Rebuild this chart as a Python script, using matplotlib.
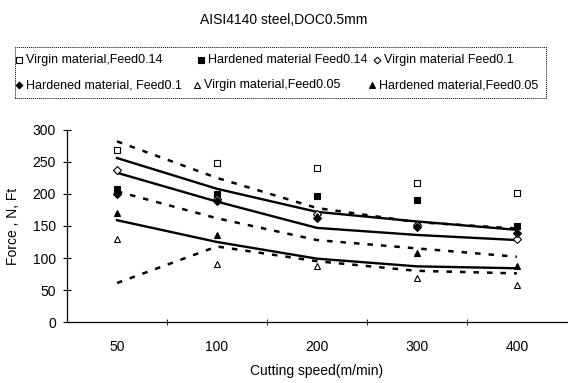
import matplotlib
matplotlib.use("Agg")
import matplotlib.pyplot as plt
from matplotlib.patches import Rectangle
from matplotlib.lines import Line2D

plt.rcParams['font.family'] = ['Liberation Sans', 'DejaVu Sans']

speeds = ['50', '100', '200', '300', '400']

# measured points
virgin_014 = [268, 249, 240, 217, 202]
hard_014 = [208, 200, 197, 190, 150]
virgin_01 = [238, 192, 168, 152, 130]
hard_01 = [200, 189, 162, 148, 139]
virgin_005 = [130, 91, 87, 69, 58]
hard_005 = [170, 136, 165, 108, 87]

# trend lines
solid_a = [256, 208, 172, 157, 144]
solid_b = [233, 188, 147, 136, 128]
solid_c = [159, 125, 99, 87, 84]
dash_a = [282, 225, 178, 156, 146]
dash_b = [204, 162, 128, 115, 102]
dash_c = [61, 118, 95, 80, 76]

W, H = 568, 383
fig = plt.figure(figsize=(W / 100, H / 100), dpi=100)
ax = fig.add_axes([0.118, 0.159, 0.88, 0.502])

x = list(range(len(speeds)))

for ys in [solid_a, solid_b, solid_c]:
    ax.plot(x, ys, color='black', lw=1.7, zorder=2)
for ys in [dash_a, dash_b, dash_c]:
    ax.plot(x, ys, color='black', lw=1.8, ls=(0, (2.2, 3.2)), zorder=2)

series = [
    (virgin_014, 's', 'white', 'Virgin material,Feed0.14'),
    (hard_014, 's', 'black', 'Hardened material Feed0.14'),
    (virgin_01, 'D', 'white', 'Virgin material Feed0.1'),
    (hard_01, 'D', 'black', 'Hardened material, Feed0.1'),
    (virgin_005, '^', 'white', 'Virgin material,Feed0.05'),
    (hard_005, '^', 'black', 'Hardened material,Feed0.05'),
]
for ys, m, fc, lab in series:
    ms = 3.6 if m == 'D' else 4.2
    ax.plot(x, ys, ls='none', marker=m, ms=ms, mfc=fc, mec='black', mew=0.8, zorder=3)

ax.set_xlim(-0.5, 4.5)
ax.set_ylim(0, 300)
ax.set_xticks(x)
ax.set_xticklabels(speeds, fontsize=10)
ax.set_xticks([0.5, 1.5, 2.5, 3.5], minor=True)
ax.tick_params(axis='x', which='major', length=0, pad=13)
ax.tick_params(axis='x', which='minor', length=4, direction='inout')
ax.set_yticks(range(0, 301, 50))
ax.tick_params(axis='y', labelsize=10, direction='inout', length=6, pad=5)
for s in ['top', 'right']:
    ax.spines[s].set_visible(False)
for s in ['left', 'bottom']:
    ax.spines[s].set_linewidth(0.9)

ax.set_xlabel('Cutting speed(m/min)', fontsize=10, labelpad=7)
ax.set_ylabel('Force , N, Ft', fontsize=10)
ax.yaxis.set_label_coords(-0.094, 0.5)

fig.text(0.5, 0.947, 'AISI4140 steel,DOC0.5mm', ha='center', va='center', fontsize=10)

# legend drawn by hand, Excel style (columns not aligned)
box = Rectangle((15 / W, 1 - 98 / H), (546 - 15) / W, (98 - 47) / H,
                transform=fig.transFigure, fill=False, ec='black', lw=0.7,
                ls=(0, (1, 1)))
fig.add_artist(box)
slots = [(19, 60), (201, 60), (377, 60), (19, 85), (197, 85), (372, 85)]
for (ys, m, fc, lab), (px, py) in zip(series, slots):
    ms = 3.4 if m == 'D' else 4.0
    fig.add_artist(Line2D([px / W], [1 - py / H], transform=fig.transFigure,
                          ls='none', marker=m, ms=ms, mfc=fc, mec='black', mew=0.8))
    fig.text((px + 7) / W, 1 - py / H, lab, ha='left', va='center', fontsize=9)

fig.savefig('out.png', dpi=100)
